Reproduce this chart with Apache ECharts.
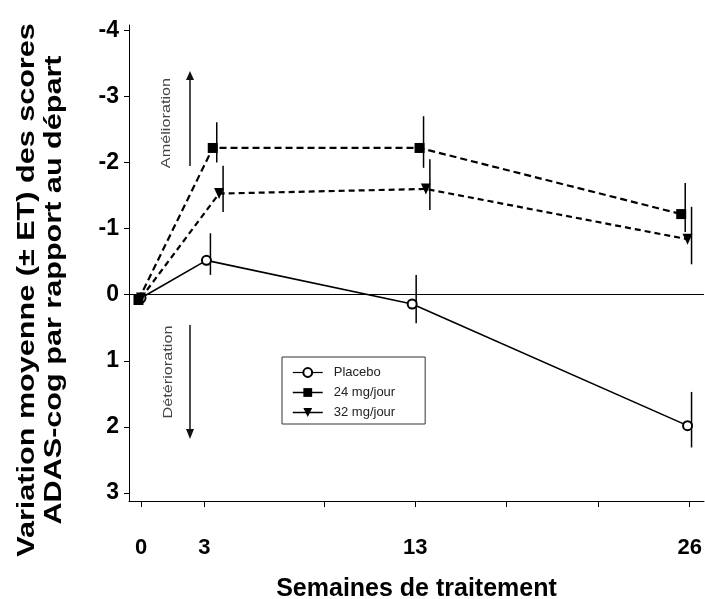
<!DOCTYPE html>
<html>
<head>
<meta charset="utf-8">
<script src="https://cdn.jsdelivr.net/npm/echarts@6/dist/echarts.min.js"></script>
<style>
html,body{margin:0;padding:0;background:#fff;}
#chart{width:705px;height:599px;}
</style>
</head>
<body>
<div id="chart"></div>
<script>
// ---- data ----
const seriesNames = ['Placebo', '24 mg/jour', '32 mg/jour'];
// x positions (weeks; small horizontal offsets as drawn in the original)
const xPlacebo = [0, 3.1, 12.85, 25.9];
const x24 = [-0.12, 3.4, 13.2, 25.6];
const x32 = [0, 3.7, 13.5, 25.9];
// mean change in ADAS-cog
const yPlacebo = [0.05, -0.52, 0.14, 1.98];
const y24 = [0.08, -2.22, -2.22, -1.22];
const y32 = [0.05, -1.53, -1.6, -0.84];
// error bar ends (± ET)
const loPlacebo = [null, -0.93, -0.30, 1.47];
const hiPlacebo = [null, -0.30, 0.43, 2.31];
const lo24 = [null, -2.61, -2.70, -1.69];
const hi24 = [null, -2.00, -1.92, -0.95];
const lo32 = [null, -1.95, -2.05, -1.33];
const hi32 = [null, -1.25, -1.28, -0.46];
// axes
const xTickValues = [0, 3, 8.67, 13, 17.33, 21.67, 26];
const xLabelValues = [0, 3, 13, 26];
const yTickValues = [-4, -3, -2, -1, 0, 1, 2, 3];
const xTitle = 'Semaines de traitement';
const yTitle1 = 'Variation moyenne (± ET) des scores';
const yTitle2 = 'ADAS-cog par rapport au départ';
const upText = 'Amélioration';
const downText = 'Détérioration';

function pts(xs, ys) { return xs.map((x, i) => [x, ys[i]]); }
function bars(xs, lo, hi) {
  const out = [];
  xs.forEach((x, i) => { if (lo[i] !== null) out.push([x, lo[i], hi[i]]); });
  return out;
}
function errSeries(name, data) {
  return {
    type: 'custom', name: name + '_err', silent: true, z: 3,
    data: data,
    encode: { x: 0, y: [1, 2] },
    renderItem: function (params, api) {
      const a = api.coord([api.value(0), api.value(1)]);
      const b = api.coord([api.value(0), api.value(2)]);
      return {
        type: 'line',
        shape: { x1: a[0] + 4, y1: a[1], x2: b[0] + 4, y2: b[1] },
        style: { stroke: '#000', lineWidth: 1.5 }
      };
    }
  };
}

const tri = 'path://M0,0 L10,0 L5,10 Z';
const F = 'Arial, "Liberation Sans", sans-serif';

const chart = echarts.init(document.getElementById('chart'), null, { renderer: 'canvas' });
const option = {
  backgroundColor: '#fff',
  animation: false,
  grid: { left: 129, right: 1, top: 25, bottom: 98, containLabel: false, outerBoundsMode: 'none' },
  xAxis: {
    type: 'value', min: -0.569, max: 26.68,
    splitLine: { show: false },
    axisLine: { onZero: false, lineStyle: { color: '#000', width: 1 } },
    axisTick: { show: true, length: 6, customValues: xTickValues, lineStyle: { color: '#000' } },
    axisLabel: { customValues: xLabelValues, margin: 36, fontSize: 22, fontWeight: 'bold', color: '#000', fontFamily: F },
    name: xTitle, nameLocation: 'middle', nameGap: 76,
    nameTextStyle: { fontSize: 25, fontWeight: 'bold', color: '#000', fontFamily: F }
  },
  yAxis: {
    type: 'value', inverse: true, min: -4.08, max: 3.12,
    splitLine: { show: false },
    axisLine: { show: true, onZero: false, lineStyle: { color: '#000', width: 1 } },
    axisTick: { show: true, length: 5, customValues: yTickValues, lineStyle: { color: '#000' } },
    axisLabel: { customValues: yTickValues, margin: 10, fontSize: 23, fontWeight: 'bold', color: '#000', fontFamily: F }
  },
  legend: {
    left: 282, top: 357, orient: 'vertical',
    itemWidth: 30, itemHeight: 11, itemGap: 7,
    padding: [9, 30, 5, 10],
    borderColor: '#333', borderWidth: 1, backgroundColor: '#fff',
    textStyle: { fontSize: 13, color: '#222', fontFamily: F, padding: [0, 0, 0, 6] },
    data: [
      { name: seriesNames[0], lineStyle: { type: 'solid', width: 1.2 } },
      { name: seriesNames[1], lineStyle: { type: 'solid', width: 1.5 } },
      { name: seriesNames[2], lineStyle: { type: 'solid', width: 1.5 } }
    ]
  },
  graphic: [
    { type: 'text', x: 28, y: 290, rotation: Math.PI / 2, scaleX: 1.33,
      style: { text: yTitle1, fill: '#000', font: 'bold 23px ' + F, align: 'center', verticalAlign: 'middle' } },
    { type: 'text', x: 55, y: 290, rotation: Math.PI / 2, scaleX: 1.33,
      style: { text: yTitle2, fill: '#000', font: 'bold 23px ' + F, align: 'center', verticalAlign: 'middle' } },
    { type: 'text', x: 166, y: 123, rotation: Math.PI / 2, scaleX: 1.25,
      style: { text: upText, fill: '#444', font: '13px ' + F, align: 'center', verticalAlign: 'middle' } },
    { type: 'text', x: 168, y: 372, rotation: Math.PI / 2, scaleX: 1.25,
      style: { text: downText, fill: '#444', font: '13px ' + F, align: 'center', verticalAlign: 'middle' } },
    { type: 'line', shape: { x1: 190, y1: 166, x2: 190, y2: 78 }, style: { stroke: '#111', lineWidth: 1.5 } },
    { type: 'polygon', shape: { points: [[190, 71], [186, 80], [194, 80]] }, style: { fill: '#111' } },
    { type: 'line', shape: { x1: 190, y1: 325, x2: 190, y2: 430 }, style: { stroke: '#111', lineWidth: 1.5 } },
    { type: 'polygon', shape: { points: [[190, 439], [186, 429], [194, 429]] }, style: { fill: '#111' } }
  ],
  series: [
    {
      name: seriesNames[0], type: 'line', z: 4,
      data: pts(xPlacebo, yPlacebo),
      symbol: 'emptyCircle', symbolSize: 9,
      lineStyle: { color: '#000', width: 1.6, type: 'solid' },
      itemStyle: { color: '#000', borderColor: '#000', borderWidth: 1 },
      markLine: {
        silent: true, symbol: ['none', 'none'], label: { show: false },
        lineStyle: { color: '#000', width: 1, type: 'solid' },
        data: [{ yAxis: 0 }]
      }
    },
    {
      name: seriesNames[1], type: 'line', z: 5,
      data: pts(x24, y24),
      symbol: 'rect', symbolSize: 10,
      lineStyle: { color: '#000', width: 2.2, type: [7, 4] },
      itemStyle: { color: '#000' }
    },
    {
      name: seriesNames[2], type: 'line', z: 5,
      data: pts(x32, y32),
      symbol: tri, symbolSize: [10, 11],
      lineStyle: { color: '#000', width: 2.2, type: [6, 4] },
      itemStyle: { color: '#000' }
    },
    errSeries('p', bars(xPlacebo, loPlacebo, hiPlacebo)),
    errSeries('a', bars(x24, lo24, hi24)),
    errSeries('b', bars(x32, lo32, hi32))
  ]
};
chart.setOption(option);
</script>
</body>
</html>
